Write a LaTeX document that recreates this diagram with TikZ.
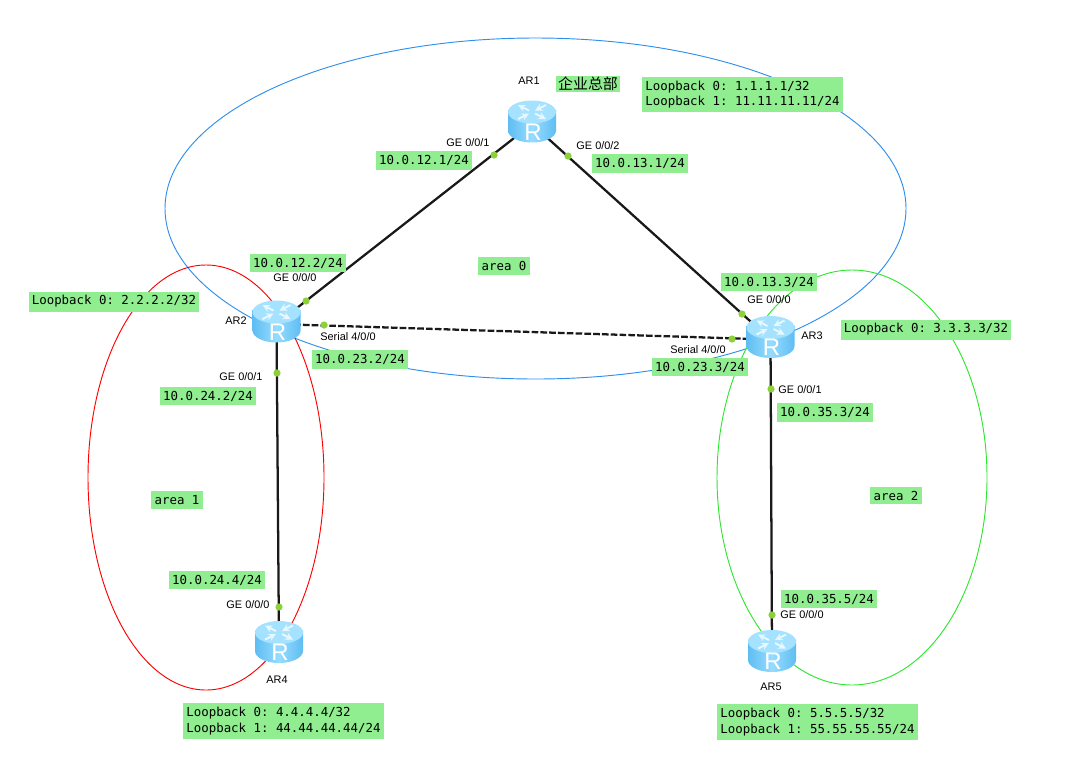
\documentclass[tikz,border=0pt]{standalone}
\usepackage{fontspec}
\setmainfont{Liberation Sans}
\setmonofont{DejaVu Sans Mono}
\newfontfamily\cjk{Noto Sans CJK SC}
\usetikzlibrary{backgrounds}

\definecolor{tagcolor}{HTML}{90EE90}
\definecolor{portcolor}{HTML}{8CD13A}
\definecolor{bluearea}{HTML}{2F8FEF}
\definecolor{greenarea}{HTML}{2FE62F}
\definecolor{bodyedge}{HTML}{5FBDF2}
\definecolor{bodymid}{HTML}{96DCFF}
\definecolor{topcolor}{HTML}{A4E2FF}

\tikzset{
    tag/.style={fill=tagcolor,font=\ttfamily\fontsize{9.3}{11.6}\selectfont,inner xsep=2.4pt,inner ysep=3pt,align=left},
    portname/.style={font=\fontsize{8.2}{10}\selectfont,inner sep=0pt},
    portdot/.style={circle,fill=portcolor,inner sep=0pt,minimum size=5.4pt},
    link/.style={line width=1.7pt,black!90},
    router/.style={rectangle,inner sep=0pt,minimum size=39pt,path picture={
        \begin{scope}[shift={(path picture bounding box.center)}]
            \shade[left color=bodyedge,right color=bodyedge,middle color=bodymid]
                (-24,-14) -- (-24,6.5) arc[start angle=180,end angle=0,x radius=24,y radius=12] -- (24,-14) -- cycle;
            \fill[topcolor] (0,-12) ellipse [x radius=24,y radius=11.5];
            \foreach \sx/\sy in {-1/-1,1/1}
            \draw[white!75!topcolor,line width=1.5pt,-stealth] (\sx*3,-12+\sy*1.5) -- (\sx*14,-12+\sy*7);
            \foreach \sx/\sy in {1/-1,-1/1}
            \draw[white!75!topcolor,line width=1.5pt,-stealth] (\sx*14,-12+\sy*7) -- (\sx*3,-12+\sy*1.5);
            \node[text=white,font=\fontsize{18}{18}\selectfont] at (1,8) {R};
        \end{scope}
    }},
}

\begin{document}
\begin{tikzpicture}[x=0.75pt,y=-0.75pt]
    \useasboundingbox (0,0) rectangle (1091,783);

    \foreach \i/\x/\y in {1/532/124, 2/276.5/324, 3/770.5/339.5, 4/279/644.5, 5/772/653.5}
    \node[router] (router \i) at (\x,\y) {};

    \begin{scope}[on background layer]
        \draw[bluearea,line width=0.7pt] (535.5,208.5) ellipse [x radius=370.5,y radius=170.5];
        \draw[red,line width=0.7pt] (206,477.5) ellipse [x radius=118,y radius=212.5];
        \draw[greenarea,line width=0.7pt] (852,477.5) ellipse [x radius=135,y radius=207.5];

        \foreach \a/\b in {1/2,1/3,2/4,3/5}
        \draw[link] (router \a.center) -- (router \b.center);
        \draw[link,dash pattern=on 5pt off 1.6pt] (router 2.center) -- (router 3.center);
    \end{scope}

    \foreach \i/\x/\y in {1/494/155, 2/568/156, 3/306/301, 4/324/325, 5/277/373, 6/742/314, 7/732/339, 8/771/389, 9/279/607, 10/772/615}
    \node[portdot] (port \i) at (\x,\y) {};

    \node[portname] (name 1) at (529,81) {AR1};
    \node[portname] (name 2) at (236,321) {AR2};
    \node[portname] (name 3) at (812,336) {AR3};
    \node[portname] (name 4) at (277,680) {AR4};
    \node[portname] (name 5) at (771,687) {AR5};

    \node[portname] (ge 1) at (468,143) {GE 0/0/1};
    \node[portname] (ge 2) at (598,146) {GE 0/0/2};
    \node[portname] (ge 3) at (295,278) {GE 0/0/0};
    \node[portname] (serial 1) at (348,337) {Serial 4/0/0};
    \node[portname] (ge 4) at (241,377) {GE 0/0/1};
    \node[portname] (ge 5) at (769,300) {GE 0/0/0};
    \node[portname] (serial 2) at (698,350) {Serial 4/0/0};
    \node[portname] (ge 6) at (800,390) {GE 0/0/1};
    \node[portname] (ge 7) at (248,605) {GE 0/0/0};
    \node[portname] (ge 8) at (802,615) {GE 0/0/0};

    \node[tag,font=\cjk\fontsize{11.2}{13}\selectfont,inner xsep=1.8pt,inner ysep=1pt] (title) at (588,84) {企业总部};

    \node[tag] (addr 1) at (424,160.5) {10.0.12.1/24};
    \node[tag] (addr 2) at (640,163.5) {10.0.13.1/24};
    \node[tag] (addr 3) at (298,263) {10.0.12.2/24};
    \node[tag] (addr 4) at (769,282) {10.0.13.3/24};
    \node[tag] (addr 5) at (360,359.5) {10.0.23.2/24};
    \node[tag] (addr 6) at (700,367) {10.0.23.3/24};
    \node[tag] (addr 7) at (208,396) {10.0.24.2/24};
    \node[tag] (addr 8) at (825,412.5) {10.0.35.3/24};
    \node[tag] (addr 9) at (217,580) {10.0.24.4/24};
    \node[tag] (addr 10) at (829,599) {10.0.35.5/24};

    \node[tag] (area 0) at (504,266) {area 0};
    \node[tag] (area 1) at (177,500) {area 1};
    \node[tag] (area 2) at (896,495.5) {area 2};

    \node[tag] (loop 1) at (742.5,94.5) {Loopback 0: 1.1.1.1/32\\Loopback 1: 11.11.11.11/24};
    \node[tag] (loop 2) at (114,301.5) {Loopback 0: 2.2.2.2/32};
    \node[tag] (loop 3) at (926,329.5) {Loopback 0: 3.3.3.3/32};
    \node[tag] (loop 4) at (283.5,721) {Loopback 0: 4.4.4.4/32\\Loopback 1: 44.44.44.44/24};
    \node[tag] (loop 5) at (817.5,722) {Loopback 0: 5.5.5.5/32\\Loopback 1: 55.55.55.55/24};
\end{tikzpicture}
\end{document}
